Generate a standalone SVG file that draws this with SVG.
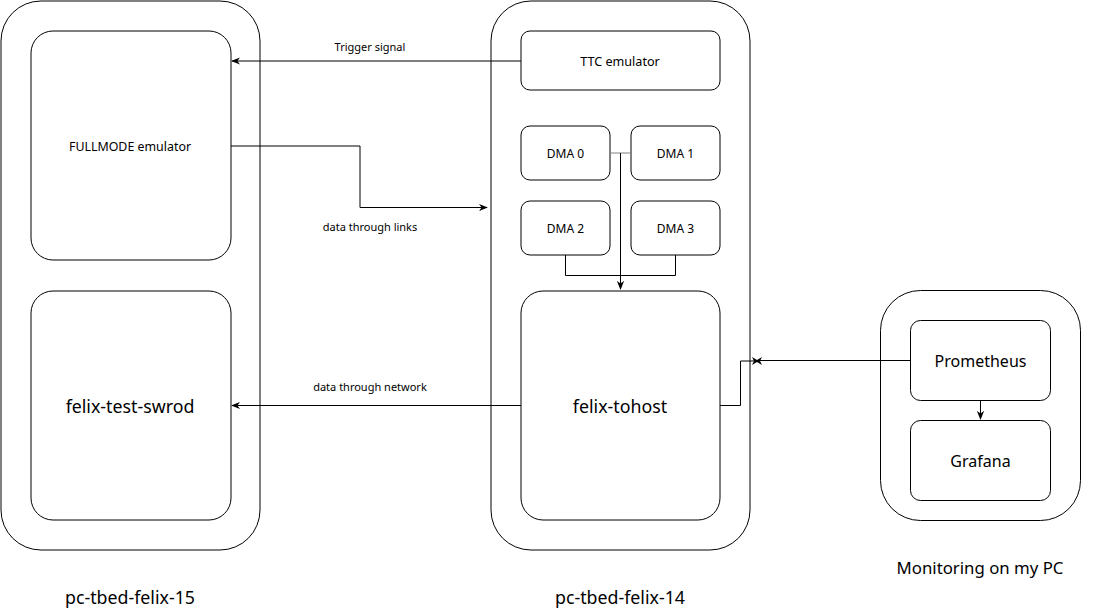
<svg xmlns="http://www.w3.org/2000/svg" width="1106" height="611" viewBox="0 0 1106 611">
<defs>
<style>
.box{fill:#fff;stroke:#000;stroke-width:1}
.t{font-family:"Noto Sans","Open Sans","DejaVu Sans",sans-serif;fill:#000;text-anchor:middle;dominant-baseline:central}
.s11{font-size:11px}.s12{font-size:12px}.s16{font-size:16px}.s15{font-size:15px}
.big{font-size:17.8px}
.e{fill:none;stroke:#000;stroke-width:1}
</style>
<marker id="arr" viewBox="0 0 10 10" refX="9" refY="5" markerWidth="9" markerHeight="9" markerUnits="userSpaceOnUse" orient="auto">
<path d="M0,1 L10,5 L0,9 L3,5 Z" fill="#000"/>
</marker>
</defs>
<rect width="1106" height="611" fill="#fff"/>
<g id="pc15"><rect class="box" x="1" y="1" width="259" height="549" rx="40"/></g>
<g id="pc14"><rect class="box" x="491" y="1" width="259" height="549" rx="40"/></g>
<g id="mypc"><rect class="box" x="880.5" y="290.5" width="200" height="230" rx="40"/></g>
<g id="fullmode"><rect class="box" x="31" y="31" width="200" height="229" rx="22"/><text class="t" style="font-size:12.4px" x="130" y="146">FULLMODE emulator</text></g>
<g id="swrod"><rect class="box" x="31" y="291" width="200" height="229" rx="22"/><text class="t big" x="130" y="406">felix-test-swrod</text></g>
<g id="ttc"><rect class="box" x="521" y="31" width="199" height="59" rx="9"/><text class="t" style="font-size:12.6px" x="620" y="61">TTC emulator</text></g>
<g id="dma0"><rect class="box" x="521" y="126" width="89" height="54" rx="9"/><text class="t s12" x="565.5" y="153">DMA 0</text></g>
<g id="dma1"><rect class="box" x="631" y="126" width="89" height="54" rx="9"/><text class="t s12" x="675.5" y="153">DMA 1</text></g>
<g id="dma2"><rect class="box" x="521" y="201" width="89" height="54" rx="9"/><text class="t s12" x="565.5" y="228">DMA 2</text></g>
<g id="dma3"><rect class="box" x="631" y="201" width="89" height="54" rx="9"/><text class="t s12" x="675.5" y="228">DMA 3</text></g>
<g id="tohost"><rect class="box" x="521" y="291" width="199" height="229" rx="22"/><text class="t big" x="620" y="406">felix-tohost</text></g>
<g id="prometheus"><rect class="box" x="910.5" y="320.5" width="140" height="80" rx="10"/><text class="t s16" x="980.5" y="360.5">Prometheus</text></g>
<g id="grafana"><rect class="box" x="910.5" y="420.5" width="140" height="80" rx="10"/><text class="t s16" x="980.5" y="460.5">Grafana</text></g>
<g id="labels">
<text class="t big" x="130" y="597">pc-tbed-felix-15</text>
<text class="t big" x="620" y="597">pc-tbed-felix-14</text>
<text class="t" style="font-size:16.8px" x="980" y="567">Monitoring on my PC</text>
</g>
<g id="connectors">
<path class="e" d="M521,61 H232" marker-end="url(#arr)"/>
<text class="t s11" x="370" y="46">Trigger signal</text>
<path class="e" d="M231,146 H360 V207.5 H487" marker-end="url(#arr)"/>
<text class="t s11" x="370" y="226">data through links</text>
<path d="M610,153 H631" stroke="#808080" stroke-width="1" fill="none"/>
<path class="e" d="M620.5,153 V289" marker-end="url(#arr)"/>
<path class="e" d="M565.5,255 V275.5 H675.5 V255"/>
<path class="e" d="M521,405.5 H232" marker-end="url(#arr)"/>
<text class="t s11" x="370" y="386">data through network</text>
<path class="e" d="M720,405.5 H740.5 V361 H752"/>
<path class="e" d="M910.5,360.5 H760 L752,361"/>
<path d="M752,357 L757,360 L762,357 L760,361 L762,365 L757,362 L752,365 L754,361 Z" fill="#000"/>
<path class="e" d="M980.5,400.5 V419" marker-end="url(#arr)"/>
</g>
</svg>
